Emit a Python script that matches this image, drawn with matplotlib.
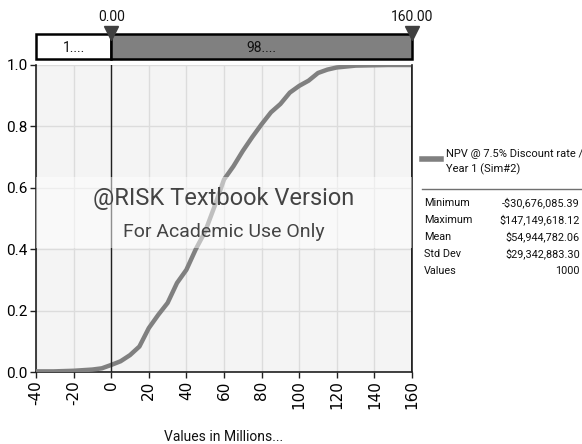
import matplotlib
matplotlib.use('Agg')
import matplotlib.pyplot as plt
from matplotlib.lines import Line2D
from matplotlib.patches import Rectangle

# ---- data ----
x_vals = [-40, -30.7, -20, -10, -5, 0, 5, 10, 15, 20, 25, 30, 35, 40, 45, 50, 55, 60,
          65, 70, 75, 80, 85, 90, 95, 100, 105, 110, 115, 120, 130, 147.1, 160]
cdf_vals = [0.002, 0.002, 0.004, 0.008, 0.012, 0.023, 0.035, 0.055, 0.083, 0.143, 0.186,
            0.225, 0.29, 0.333, 0.40, 0.458, 0.54, 0.627, 0.67, 0.72, 0.765, 0.807, 0.846,
            0.873, 0.91, 0.932, 0.949, 0.974, 0.985, 0.992, 0.998, 1.0, 1.0]
x_ticks = [-40, -20, 0, 20, 40, 60, 80, 100, 120, 140, 160]
y_ticks = [0.0, 0.2, 0.4, 0.6, 0.8, 1.0]
left_cut, right_cut = 0.0, 160.0
region_labels = ["1....", "98...."]
series_name = "NPV @ 7.5% Discount rate /\nYear 1 (Sim#2)"
stat_names = ["Minimum", "Maximum", "Mean", "Std Dev", "Values"]
stat_values = ["-$30,676,085.39", "$147,149,618.12", "$54,944,782.06", "$29,342,883.30", "1000"]

NARROW = ['Roboto', 'DejaVu Sans']
W, H = 582, 444
fig = plt.figure(figsize=(W / 100, H / 100), dpi=100)

def fx(px):
    return px / W

def fy(py):
    return 1 - py / H

# ---- main axes ----
ax = fig.add_axes([fx(36), fy(372), fx(412) - fx(36), fy(65) - fy(372)])
ax.set_facecolor('#f4f4f4')
ax.set_xlim(-40, 160)
ax.set_ylim(0, 1)
ax.set_xticks(x_ticks)
ax.set_yticks(y_ticks)
ax.grid(True, color='#dcdcdc', lw=1)
ax.set_axisbelow(True)
ax.spines['top'].set_visible(False)
for s in ['left', 'bottom', 'right']:
    ax.spines[s].set_color('#202020')
    ax.spines[s].set_linewidth(1.2)
ax.plot(x_vals, cdf_vals, color='#808080', lw=3.2, solid_capstyle='butt', zorder=3)
ax.axvline(left_cut, color='#202020', lw=1, zorder=4)
ax.axvline(right_cut, color='#202020', lw=1.2, zorder=4)
ax.set_xticklabels([str(t) for t in x_ticks], rotation=90, fontsize=11, family='DejaVu Sans')
ax.set_yticklabels([f"{t:.1f}" for t in y_ticks], fontsize=11, family=NARROW)
ax.tick_params(axis='both', length=4, width=1, color='#202020', pad=2)
fig.text(fx(224), fy(437), "Values in Millions...", ha='center', va='center', fontsize=10,
         family=NARROW, color='#111111')

# watermark band
ax.add_patch(Rectangle((0, 0.405), 1, 0.229, transform=ax.transAxes,
                       facecolor='white', alpha=0.5, edgecolor='none', zorder=5))
ax.text(0.5, 0.565, "@RISK Textbook Version", transform=ax.transAxes, ha='center',
        va='center', fontsize=17, color='#444444', family=NARROW, zorder=6)
ax.text(0.5, 0.455, "For Academic Use Only", transform=ax.transAxes, ha='center',
        va='center', fontsize=14, color='#444444', family=NARROW, zorder=6)

# ---- top delimiter bar ----
bx = fig.add_axes([fx(36), fy(59), fx(412) - fx(36), fy(34) - fy(59)])
bx.set_xlim(-40, 160)
bx.set_ylim(0, 1)
bx.axis('off')
bx.add_patch(Rectangle((-40, 0), left_cut + 40, 1, facecolor='white', edgecolor='black', lw=1.8,
                       clip_on=False))
bx.add_patch(Rectangle((left_cut, 0), right_cut - left_cut, 1, facecolor='#808080',
                       edgecolor='black', lw=1.8, clip_on=False))
bx.text((-40 + left_cut) / 2, 0.45, region_labels[0], ha='center', va='center', fontsize=10,
        family=NARROW, color='#111111')
bx.text((left_cut + right_cut) / 2, 0.45, region_labels[1], ha='center', va='center',
        fontsize=10, family=NARROW, color='#111111')
for xv in (left_cut, right_cut):
    bx.plot([xv], [1.05], marker='v', markersize=10, color='#404040', clip_on=False, zorder=5)
    bx.text(xv, 1.4, f"{xv:.2f}", ha='center', va='bottom', fontsize=10, family=NARROW,
            color='#111111')

# ---- legend / stats ----
fig.add_artist(Line2D([fx(422), fx(441)], [fy(159), fy(159)], color='#808080', lw=4))
fig.text(fx(446), fy(162), series_name, ha='left', va='center', fontsize=8, family=NARROW,
         color='#111111', linespacing=1.45)
fig.add_artist(Line2D([fx(422), fx(582)], [fy(189), fy(189)], color='#707070', lw=1))
for i, (n, v) in enumerate(zip(stat_names, stat_values)):
    y = fy(203 + 17 * i)
    fig.text(fx(424), y, n, ha='left', va='center', fontsize=7.8, family=NARROW, color='#111111')
    fig.text(fx(580), y, v, ha='right', va='center', fontsize=7.8, family=NARROW, color='#111111')

fig.savefig('out.png', dpi=100)
